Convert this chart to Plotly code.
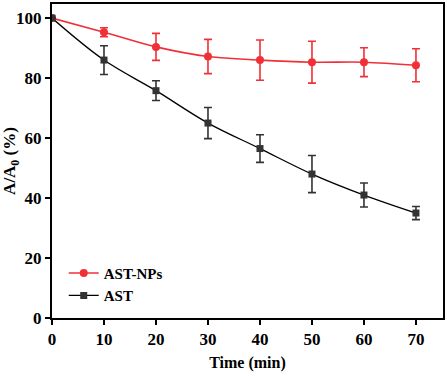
import plotly.graph_objects as go

time = [0, 10, 20, 30, 40, 50, 60, 70]
nps_values = [100, 95.3, 90.4, 87.2, 86.0, 85.3, 85.3, 84.3]
nps_err = [0, 1.5, 4.5, 5.7, 6.7, 7.0, 4.8, 5.5]
ast_values = [100, 86.0, 75.8, 65.0, 56.5, 48.0, 41.0, 35.0]
ast_err = [0, 4.8, 3.3, 5.2, 4.6, 6.2, 4.0, 2.2]

RED = "#f03037"
DARK = "#333333"
FAM = "Liberation Serif, Times New Roman, serif"
font = dict(family=FAM, size=16, color="black")

fig = go.Figure()
fig.add_trace(go.Scatter(
    x=time, y=nps_values, name="<b>AST-NPs</b>", mode="lines+markers",
    line=dict(color=RED, width=1.6, shape="spline"),
    marker=dict(symbol="circle", size=8, color=RED),
    error_y=dict(type="data", array=nps_err, color=RED, thickness=1.6, width=4),
))
fig.add_trace(go.Scatter(
    x=time, y=ast_values, name="<b>AST</b>", mode="lines+markers",
    line=dict(color="black", width=1.3, shape="spline"),
    marker=dict(symbol="square", size=7, color=DARK),
    error_y=dict(type="data", array=ast_err, color=DARK, thickness=1.6, width=4),
))

axis_common = dict(
    showgrid=False, zeroline=False, showline=True, linecolor="black", linewidth=2,
    mirror=True, ticks="outside", ticklen=5, tickwidth=1.5, tickcolor="black",
    tickfont=dict(family=FAM, size=17, color="black"),
)
fig.update_xaxes(range=[0, 75.2], tickvals=[0, 10, 20, 30, 40, 50, 60, 70],
                 ticktext=[f"<b>{v}</b>" for v in [0, 10, 20, 30, 40, 50, 60, 70]],
                 title=dict(text="<b>Time (min)</b>", font=dict(family=FAM, size=16), standoff=8),
                 **axis_common)
fig.update_yaxes(range=[0, 104.7], tickvals=[0, 20, 40, 60, 80, 100],
                 ticktext=[f"<b>{v}</b>" for v in [0, 20, 40, 60, 80, 100]],
                 title=dict(text="<b>A/A<sub>0</sub> (%)</b>", font=dict(family=FAM, size=17), standoff=6),
                 **axis_common)
fig.update_layout(
    width=447, height=376, template="none",
    paper_bgcolor="white", plot_bgcolor="white",
    margin=dict(l=52, r=4, t=4, b=58, autoexpand=False),
    font=font,
    showlegend=True,
    legend=dict(x=0.03, y=0.02, xanchor="left", yanchor="bottom",
                bgcolor="rgba(0,0,0,0)", font=dict(family=FAM, size=15),
                tracegroupgap=0, itemwidth=30),
)
fig.write_html("out.html", config={"displayModeBar": False},
               post_script="document.body.style.margin='0';")
